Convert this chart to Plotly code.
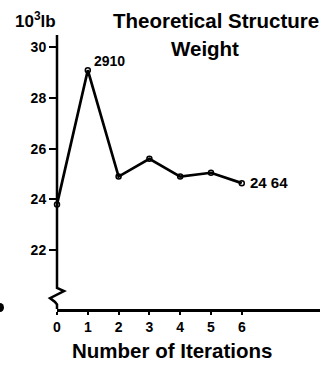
import plotly.graph_objects as go

iterations = [0, 1, 2, 3, 4, 5, 6]
weight = [23.8, 29.10, 24.9, 25.6, 24.9, 25.05, 24.64]
x_ticks = [0, 1, 2, 3, 4, 5, 6]
y_ticks = [22, 24, 26, 28, 30]
label_first = "2910"
label_last = "24 64"

W, H = 331, 366
ml, mr, mt, mb = 57, 11, 35, 57
pw, ph = W - ml - mr, H - mt - mb

def px(xpix):
    return (xpix - ml) / pw

def py(ypix):
    return (H - mb - ypix) / ph

FONT = "Liberation Sans"
y_top, y_bot = 30.49, 19.67

fig = go.Figure()
fig.add_trace(go.Scatter(
    x=iterations, y=weight, mode="lines+markers",
    line=dict(color="black", width=2.7),
    marker=dict(symbol="circle-open", size=5, color="black", line=dict(width=1.5, color="black")),
    cliponaxis=False, showlegend=False, hoverinfo="skip",
))

# y-axis line with break
brk = [(0, 20.50), (7, 20.38), (-7, 20.10), (-2, 19.95), (0, 19.85)]
path = f"M 0,{y_top} L 0,{brk[0][1]}"
for dx, yy in brk[1:]:
    path += f" L {dx / pw},{yy}"
path += f" L 0,{y_bot}"
shapes = [
    dict(type="path", xref="paper", yref="y", path=path,
         line=dict(color="black", width=2.5)),
    dict(type="circle", xref="paper", yref="paper",
         x0=px(-4), x1=px(4), y0=py(312), y1=py(303),
         fillcolor="black", line=dict(width=0)),
]

annotations = [
    dict(text="10<sup>3</sup>lb", xref="paper", yref="paper", x=px(13), y=py(20),
         xanchor="left", yanchor="middle", showarrow=False,
         font=dict(family=FONT, size=17, color="black", weight="bold")),
    dict(text="Theoretical Structure", xref="paper", yref="paper", x=px(216), y=py(20),
         xanchor="center", yanchor="middle", showarrow=False,
         font=dict(family=FONT, size=20.5, color="black", weight="bold")),
    dict(text="Weight", xref="paper", yref="paper", x=px(205), y=py(48),
         xanchor="center", yanchor="middle", showarrow=False,
         font=dict(family=FONT, size=20.5, color="black", weight="bold")),
    dict(text=label_first, x=iterations[1], y=weight[1], xanchor="left", yanchor="middle",
         xshift=4, yshift=9, showarrow=False,
         font=dict(family=FONT, size=14, color="black", weight="bold")),
    dict(text=label_last, x=iterations[-1], y=weight[-1], xanchor="left", yanchor="middle",
         xshift=6, yshift=1, showarrow=False,
         font=dict(family=FONT, size=15, color="black", weight="bold")),
    dict(text="Number of Iterations", xref="paper", yref="paper", x=px(172), y=py(350),
         xanchor="center", yanchor="middle", showarrow=False,
         font=dict(family=FONT, size=20.5, color="black", weight="bold")),
]

fig.update_layout(
    width=W, height=H,
    margin=dict(l=ml, r=mr, t=mt, b=mb),
    paper_bgcolor="white", plot_bgcolor="white",
    font=dict(family=FONT, color="black", size=14, weight="bold"),
    shapes=shapes, annotations=annotations,
    xaxis=dict(range=[0, 8.54], tickvals=x_ticks, showgrid=False, zeroline=False,
               showline=True, linecolor="black", linewidth=2.5,
               ticks="outside", ticklen=3, tickwidth=1.5, tickcolor="black",
               ticklabelstandoff=0,
               tickfont=dict(family=FONT, size=14, color="black", weight="bold")),
    yaxis=dict(range=[y_bot, y_top], tickvals=y_ticks, showgrid=False, zeroline=False,
               showline=False, ticks="outside", ticklen=7, tickwidth=1.5, tickcolor="black",
               ticklabelstandoff=0,
               tickfont=dict(family=FONT, size=14, color="black", weight="bold")),
)

fig.write_html("out.html", config={"displayModeBar": False},
               post_script="document.body.style.margin='0';")
